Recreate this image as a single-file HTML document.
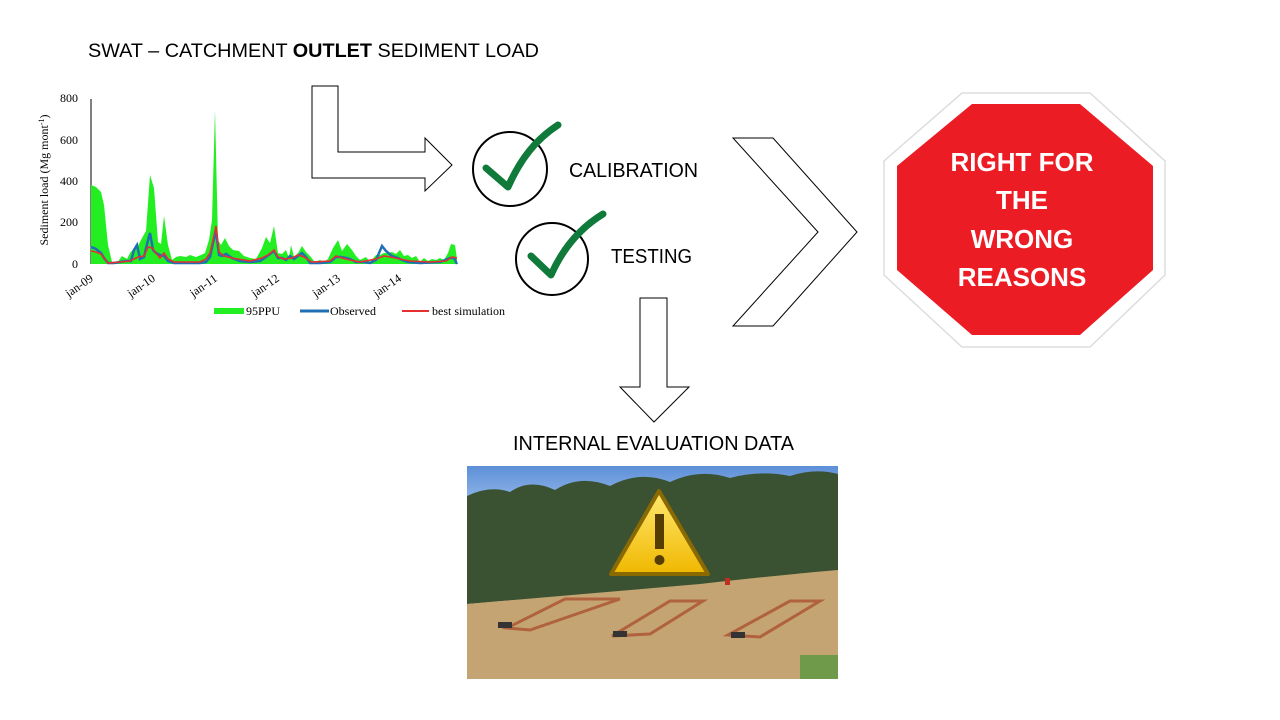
<!DOCTYPE html>
<html><head><meta charset="utf-8"><style>
body{margin:0;background:#fff;}
svg{display:block}
</style></head><body>
<svg width="1280" height="720" viewBox="0 0 1280 720" xmlns="http://www.w3.org/2000/svg">
<rect width="1280" height="720" fill="#fff"/>
<text x="88" y="57" font-family="Liberation Sans, sans-serif" font-size="19.8" fill="#000" textLength="451" lengthAdjust="spacingAndGlyphs">SWAT – CATCHMENT <tspan font-weight="bold">OUTLET</tspan> SEDIMENT LOAD</text>

<!-- chart -->
<g font-family="Liberation Serif, serif" font-size="12" fill="#000">
<text x="78" y="102" text-anchor="end">800</text>
<text x="78" y="144" text-anchor="end">600</text>
<text x="78" y="185" text-anchor="end">400</text>
<text x="78" y="226" text-anchor="end">200</text>
<text x="78" y="268" text-anchor="end">0</text>
<text transform="translate(48,180) rotate(-90)" text-anchor="middle" font-size="12">Sediment load (Mg mont<tspan font-size="8" dy="-4">-1</tspan><tspan dy="4">)</tspan></text>
<g font-size="12">
<text transform="translate(94,280) rotate(-35)" text-anchor="end">jan-09</text>
<text transform="translate(156,280) rotate(-35)" text-anchor="end">jan-10</text>
<text transform="translate(218,280) rotate(-35)" text-anchor="end">jan-11</text>
<text transform="translate(280,280) rotate(-35)" text-anchor="end">jan-12</text>
<text transform="translate(341,280) rotate(-35)" text-anchor="end">jan-13</text>
<text transform="translate(402,280) rotate(-35)" text-anchor="end">jan-14</text>
</g>
<rect x="214" y="308" width="30" height="6" fill="#22ee22"/>
<text x="246" y="315">95PPU</text>
<line x1="300" y1="311" x2="329" y2="311" stroke="#1f6fb5" stroke-width="3"/>
<text x="330" y="315">Observed</text>
<line x1="402" y1="311" x2="429" y2="311" stroke="#e53030" stroke-width="2"/>
<text x="432" y="315">best simulation</text>
</g>
<line x1="91" y1="99" x2="91" y2="264" stroke="#000" stroke-width="1"/>
<polygon fill="#22ee22" points="91,185 96,187 101,192 104,205 108,245 112,262 117,263 122,256 127,259 130,253 134,248 138,246 142,238 146,231 150,175 154,188 158,242 161,244 164,216 168,245 172,260 176,257 180,256 186,257 190,255 196,257 201,255 205,253 209,240 212,220 215,110 218,240 221,245 225,238 229,246 233,250 239,251 244,256 250,258 256,259 262,248 266,237 270,243 274,226 278,253 282,254 286,250 289,258 291,245 294,257 298,253 302,246 306,252 310,256 315,262 320,260 324,262 328,259 333,248 338,240 342,251 347,244 352,250 356,256 360,260 366,257 370,262 376,255 380,255 384,253 388,253 392,252 396,254 400,250 404,256 408,255 412,258 416,256 420,262 424,258 428,261 432,259 436,260 440,258 444,260 448,253 451,244 455,245 457,259 457,264 91,264"/>
<polyline fill="none" stroke="#1f6fb5" stroke-width="2.5" points="91,247 96,249 101,253 104,258 108,263 114,263 120,262 126,261 131,261 134,250 137,245 140,259 144,257 147,244 150,233 153,250 156,253 160,255 164,256 168,261 174,263 190,263 200,263 206,262 210,257 213,243 216,231 219,255 222,256 226,254 232,258 240,261 250,262 260,261 266,257 270,254 274,251 278,258 282,258 286,260 290,256 294,259 298,256 302,253 306,257 310,263 320,263 330,262 336,257 341,257 346,258 350,259 356,262 364,262 370,263 376,260 382,246 386,251 392,256 398,258 402,260 408,262 420,263 440,262 450,258 454,258 457,264"/>
<polyline fill="none" stroke="#e53030" stroke-width="1.6" points="91,251 96,252 101,254 104,258 108,263 120,262 130,261 138,257 144,256 148,247 152,248 156,253 160,258 164,253 168,259 174,262 200,262 206,259 210,253 213,240 216,226 219,252 224,256 232,258 250,261 262,258 268,255 274,250 278,257 284,259 292,258 298,255 304,257 312,262 330,261 336,256 342,258 350,260 360,262 376,259 384,256 390,257 400,259 410,261 430,262 446,261 452,257 457,258"/>

<!-- L arrow -->
<polygon points="312,86 338,86 338,152 425,152 425,138 452,165 425,191 425,178 312,178" fill="#fff" stroke="#000" stroke-width="1"/>

<!-- checks -->
<circle cx="510" cy="169" r="37" fill="none" stroke="#000" stroke-width="2"/>
<path d="M486,168 L508,187 C520,160 535,140 558,125" fill="none" stroke="#0f7a3a" stroke-width="7" stroke-linecap="round" stroke-linejoin="round"/>
<circle cx="552" cy="259" r="36" fill="none" stroke="#000" stroke-width="2"/>
<path d="M531,256 L551,275 C563,248 580,228 603,214" fill="none" stroke="#0f7a3a" stroke-width="7" stroke-linecap="round" stroke-linejoin="round"/>
<text x="569" y="177" font-family="Liberation Sans, sans-serif" font-size="20" fill="#000" textLength="129" lengthAdjust="spacingAndGlyphs">CALIBRATION</text>
<text x="611" y="263" font-family="Liberation Sans, sans-serif" font-size="20" fill="#000" textLength="81" lengthAdjust="spacingAndGlyphs">TESTING</text>

<!-- chevron -->
<polygon points="733,138 773,138 857,232 773,326 733,326 818,232" fill="#fff" stroke="#000" stroke-width="1"/>

<!-- down arrow -->
<polygon points="640,298 667,298 667,387 689,387 654,422 620,387 640,387" fill="#fff" stroke="#000" stroke-width="1"/>

<!-- stop sign -->
<polygon points="962,93 1090,93 1165,161 1165,275 1090,347 962,347 884,275 884,161" fill="#fff" stroke="#ddd" stroke-width="1.5"/>
<polygon points="972,104 1080,104 1153,166 1153,270 1080,335 972,335 897,270 897,166" fill="#ec1c24"/>
<g font-family="Liberation Sans, sans-serif" font-weight="bold" font-size="26" fill="#fff" text-anchor="middle">
<text x="1022" y="171">RIGHT FOR</text>
<text x="1022" y="209">THE</text>
<text x="1022" y="248">WRONG</text>
<text x="1022" y="286">REASONS</text>
</g>

<text x="513" y="450" font-family="Liberation Sans, sans-serif" font-size="20" fill="#000" textLength="281" lengthAdjust="spacingAndGlyphs">INTERNAL EVALUATION DATA</text>

<!-- photo -->
<defs>
<linearGradient id="sky" x1="0" y1="0" x2="0" y2="1"><stop offset="0" stop-color="#5d8fd8"/><stop offset="1" stop-color="#9ec0ea"/></linearGradient>
<linearGradient id="warn" x1="0" y1="0" x2="0" y2="1"><stop offset="0" stop-color="#ffe870"/><stop offset="1" stop-color="#f0b800"/></linearGradient>
</defs>
<rect x="467" y="466" width="371" height="213" fill="#c8aa78"/>
<rect x="467" y="466" width="371" height="45" fill="url(#sky)"/>
<path d="M467,496 Q490,485 510,492 Q530,478 555,490 Q580,474 610,486 Q640,470 670,482 Q700,468 730,478 Q760,470 790,476 Q815,468 838,474 L838,572 Q760,578 700,585 Q620,592 560,597 Q510,600 467,604 Z" fill="#3a5232"/>
<path d="M467,604 Q560,596 700,584 Q780,575 838,570 L838,679 L467,679 Z" fill="#c4a472"/>
<g fill="none" stroke="#b0623e" stroke-width="3">
<polygon points="507,628 565,599 620,599 530,630"/>
<polygon points="612,636 670,601 703,601 650,634"/>
<polygon points="728,635 790,601 820,601 760,637"/>
</g>
<rect x="498" y="622" width="14" height="6" fill="#333"/>
<rect x="613" y="631" width="14" height="6" fill="#333"/>
<rect x="731" y="632" width="14" height="6" fill="#333"/>
<rect x="725" y="578" width="5" height="7" fill="#c03020"/>
<rect x="800" y="655" width="38" height="24" fill="#6e9a4a"/>
<polygon points="659,491 708,574 611,574" fill="url(#warn)" stroke="#8a6a00" stroke-width="4" stroke-linejoin="round"/>
<rect x="655" y="514" width="9" height="35" fill="#553c00"/>
<circle cx="659.5" cy="560" r="5" fill="#553c00"/>
</svg>
</body></html>
